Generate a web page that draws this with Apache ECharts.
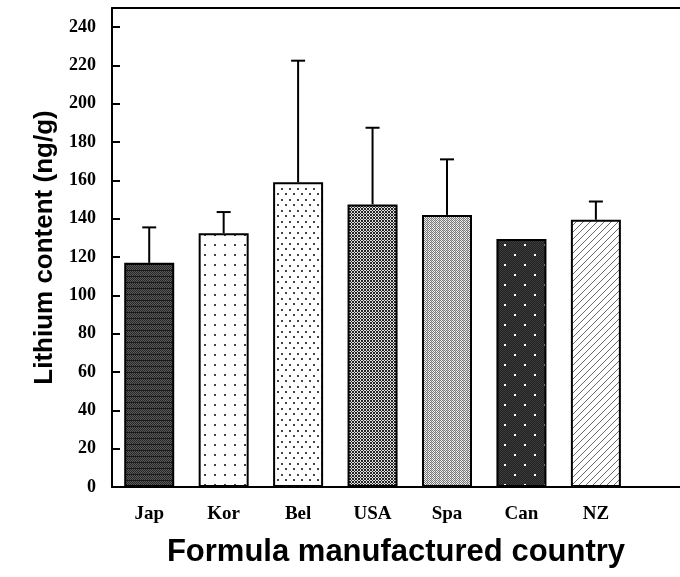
<!DOCTYPE html>
<html>
<head>
<meta charset="utf-8">
<script src="https://cdn.jsdelivr.net/npm/echarts@6/dist/echarts.min.js"></script>
<style>
  html, body { margin: 0; padding: 0; background: #fff; }
  #chart { width: 680px; height: 577px; }
</style>
</head>
<body>
<div id="chart"></div>
<script>
// Lithium content of infant formula by manufacturing country (mean and upper SD)
const countries = ['Jap', 'Kor', 'Bel', 'USA', 'Spa', 'Can', 'NZ'];
const means = [117, 132.5, 159, 147.5, 142, 129.5, 139.5];
const upperSD = [135.5, 143.5, 222.5, 187.5, 171, 129.5, 149];
const yMin = 0, yMax = 250, yStep = 20;
// category slots on a numeric x scale: slot i sits at x = i
const xMin = -0.5, xMax = 7.13, xStep = 0.5;

// ---- fill patterns for the bars ----
function tile(w, h, draw) {
  const c = document.createElement('canvas');
  c.width = w; c.height = h;
  const g = c.getContext('2d');
  draw(g, w, h);
  return { image: c, repeat: 'repeat' };
}
function px(g, x, y, col, s) { g.fillStyle = col; g.fillRect(x, y, s || 1, s || 1); }

const patterns = [
  // dark screen with horizontal banding
  tile(4, 6, (g, w, h) => {
    g.fillStyle = '#5a5a5a'; g.fillRect(0, 0, w, h);
    for (let y = 0; y < h; y++) for (let x = 0; x < w; x++)
      if ((x + y) % 2 === 0) px(g, x, y, '#262626');
    g.fillStyle = '#1a1a1a'; g.fillRect(0, 0, w, 1);
  }),
  // sparse dots
  tile(10, 10, (g, w, h) => {
    g.fillStyle = '#fff'; g.fillRect(0, 0, w, h);
    px(g, 4, 4, '#444', 2);
  }),
  // denser staggered dots
  tile(8, 11, (g, w, h) => {
    g.fillStyle = '#fff'; g.fillRect(0, 0, w, h);
    px(g, 1, 1, '#444', 2);
    px(g, 5, 6, '#444', 2);
  }),
  // dense cross-diagonal hatch
  tile(6, 6, (g, w, h) => {
    g.fillStyle = '#e0e0e0'; g.fillRect(0, 0, w, h);
    for (let y = 0; y < h; y++) for (let x = 0; x < w; x++)
      if ((x + y) % 3 === 0 || (x - y + 6) % 3 === 0) px(g, x, y, '#262626');
  }),
  // light screen
  tile(4, 4, (g, w, h) => {
    g.fillStyle = '#f2f2f2'; g.fillRect(0, 0, w, h);
    for (let y = 0; y < h; y++) for (let x = 0; x < w; x++)
      if ((x + y) % 2 === 0) px(g, x, y, '#777');
    px(g, 3, 0, '#c0c0c0'); px(g, 3, 2, '#c0c0c0');
  }),
  // dark with white dots
  tile(20, 20, (g, w, h) => {
    g.fillStyle = '#222'; g.fillRect(0, 0, w, h);
    for (let y = 0; y < h; y++) for (let x = 0; x < w; x++)
      if ((x + y) % 2 === 0) px(g, x, y, '#3c3c3c');
    px(g, 4, 4, '#fff', 2);
    px(g, 14, 14, '#fff', 2);
  }),
  // fine diagonal lines
  tile(7, 7, (g, w, h) => {
    g.fillStyle = '#fff'; g.fillRect(0, 0, w, h);
    for (let i = 0; i < 7; i++) px(g, i, 6 - i, '#6a6a6a');
  })
];

const serif = 'Liberation Serif';
const sans = 'Liberation Sans';

const chart = echarts.init(document.getElementById('chart'), null, { renderer: 'canvas' });
chart.setOption({
  backgroundColor: '#fff',
  animation: false,
  grid: { left: 112, right: 0, top: 8, bottom: 90 },
  xAxis: [
    {
      type: 'value',
      min: xMin, max: xMax, interval: xStep,
      position: 'bottom',
      splitLine: { show: false },
      axisLine: { show: true, onZero: false, lineStyle: { color: '#000', width: 2 } },
      axisTick: { show: false },
      axisLabel: {
        color: '#000', fontFamily: serif, fontWeight: 'bold', fontSize: 19, margin: 18,
        showMinLabel: true, showMaxLabel: false,
        formatter: v => (Number.isInteger(v) && countries[v] !== undefined ? countries[v] : '')
      },
      name: 'Formula manufactured country',
      nameLocation: 'middle',
      nameGap: 50,
      nameTextStyle: { color: '#000', fontFamily: sans, fontWeight: 'bold', fontSize: 31 }
    },
    {
      // frame line along the top of the plot
      type: 'value',
      min: xMin, max: xMax, interval: xStep,
      position: 'top',
      splitLine: { show: false },
      axisLine: { show: true, onZero: false, lineStyle: { color: '#000', width: 2 } },
      axisTick: { show: false },
      axisLabel: { show: false }
    }
  ],
  yAxis: {
    type: 'value',
    min: yMin, max: yMax, interval: yStep,
    position: 'left',
    axisLine: { show: true, onZero: false, lineStyle: { color: '#000', width: 2 } },
    axisTick: { show: true, inside: true, length: 8, lineStyle: { color: '#000', width: 2 } },
    splitLine: { show: false },
    axisLabel: {
      color: '#000', fontFamily: serif, fontWeight: 'bold', fontSize: 18, margin: 16,
      showMaxLabel: false,
      formatter: v => (v % yStep === 0 ? String(v) : '')
    },
    name: 'Lithium content (ng/g)',
    nameLocation: 'middle',
    nameGap: 54,
    nameTextStyle: { color: '#000', fontFamily: sans, fontWeight: 'bold', fontSize: 26 }
  },
  series: [
    {
      type: 'bar',
      xAxisIndex: 0,
      barWidth: 50,
      data: means.map((v, i) => ({
        value: [i, v],
        itemStyle: { color: patterns[i], borderColor: '#000', borderWidth: 2 }
      })),
      z: 2
    },
    {
      type: 'custom',
      xAxisIndex: 0,
      z: 3,
      data: countries.map((c, i) => [i, means[i], upperSD[i]]),
      renderItem: (params, api) => {
        const base = api.coord([api.value(0), api.value(1)]);
        const top = api.coord([api.value(0), api.value(2)]);
        if (top[1] >= base[1] - 0.5) return null;
        const half = 7;
        const style = { stroke: '#000', lineWidth: 2 };
        return {
          type: 'group',
          children: [
            { type: 'line', shape: { x1: base[0], y1: base[1], x2: top[0], y2: top[1] }, style },
            { type: 'line', shape: { x1: top[0] - half, y1: top[1], x2: top[0] + half, y2: top[1] }, style }
          ]
        };
      }
    }
  ]
});
</script>
</body>
</html>
